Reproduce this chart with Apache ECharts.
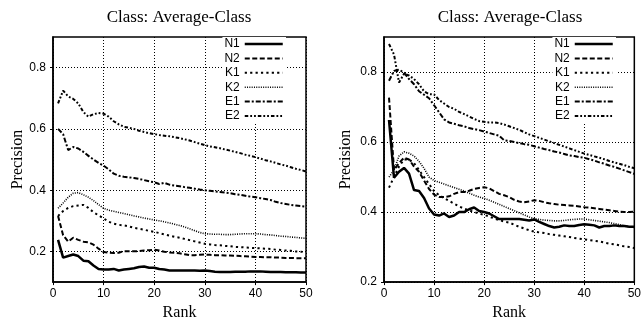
<!DOCTYPE html>
<html>
<head>
<meta charset="utf-8">
<script src="https://cdn.jsdelivr.net/npm/echarts@6/dist/echarts.min.js"></script>
<style>
  html, body { margin: 0; padding: 0; background: #fff; }
  #main { width: 644px; height: 326px; }
</style>
</head>
<body>
<div id="main"></div>
<script>
var ranks = [1,2,3,4,5,6,7,8,9,10,11,12,13,14,15,16,17,18,19,20,21,22,23,24,25,
  26,27,28,29,30,31,32,33,34,35,36,37,38,39,40,41,42,43,44,45,46,47,48,49,50];
var names = ['N1', 'N2', 'K1', 'K2', 'E1', 'E2'];
var yTicks = [0.2, 0.4, 0.6, 0.8];
var xTicks = [0, 10, 20, 30, 40, 50];

// left panel
var leftN1 = [0.238,0.18,0.185,0.19,0.185,0.17,0.168,0.154,0.143,0.141,0.141,0.143,0.138,0.141,0.143,0.145,0.149,0.151,0.147,0.147,
  0.143,0.141,0.138,0.138,0.138,0.138,0.138,0.138,0.137,0.138,0.136,0.134,0.133,0.133,0.133,0.134,0.134,0.134,0.135,0.135,
  0.135,0.134,0.133,0.133,0.133,0.132,0.132,0.132,0.131,0.131];
var leftN2 = [0.316,0.253,0.232,0.245,0.238,0.232,0.23,0.222,0.209,0.198,0.196,0.195,0.196,0.201,0.201,0.201,0.201,0.203,0.204,0.206,
  0.203,0.199,0.197,0.196,0.194,0.191,0.188,0.188,0.189,0.19,0.189,0.188,0.188,0.187,0.187,0.186,0.185,0.184,0.183,0.182,
  0.182,0.181,0.181,0.18,0.18,0.179,0.179,0.178,0.178,0.178];
var leftK1 = [0.316,0.332,0.342,0.348,0.35,0.352,0.342,0.328,0.318,0.308,0.297,0.291,0.287,0.285,0.282,0.277,0.274,0.271,0.267,0.264,
  0.26,0.256,0.252,0.248,0.245,0.241,0.237,0.233,0.229,0.225,0.223,0.221,0.22,0.218,0.217,0.215,0.214,0.213,0.212,0.211,
  0.21,0.209,0.208,0.206,0.205,0.203,0.202,0.2,0.199,0.198];
var leftK2 = [0.341,0.358,0.377,0.39,0.392,0.385,0.377,0.366,0.353,0.341,0.335,0.331,0.327,0.324,0.32,0.316,0.313,0.309,0.306,0.303,
  0.3,0.297,0.293,0.289,0.285,0.28,0.274,0.268,0.262,0.258,0.257,0.256,0.256,0.255,0.255,0.256,0.257,0.258,0.258,0.258,
  0.257,0.255,0.254,0.252,0.25,0.249,0.247,0.246,0.244,0.243];
var leftE1 = [0.6,0.583,0.531,0.541,0.536,0.525,0.512,0.5,0.489,0.48,0.468,0.454,0.447,0.444,0.442,0.44,0.437,0.433,0.429,0.426,
  0.42,0.424,0.418,0.415,0.413,0.41,0.408,0.405,0.402,0.4,0.398,0.396,0.394,0.392,0.39,0.387,0.385,0.382,0.379,0.377,
  0.374,0.371,0.368,0.362,0.358,0.355,0.352,0.35,0.348,0.346];
var leftE2 = [0.683,0.725,0.706,0.698,0.683,0.655,0.64,0.648,0.652,0.65,0.64,0.625,0.615,0.607,0.604,0.6,0.594,0.59,0.586,0.583,
  0.58,0.578,0.576,0.573,0.57,0.566,0.562,0.557,0.552,0.547,0.543,0.54,0.537,0.533,0.529,0.525,0.521,0.516,0.512,0.508,
  0.503,0.498,0.494,0.489,0.484,0.48,0.475,0.47,0.466,0.461];

// right panel
var rightN1 = [0.663,0.498,0.515,0.526,0.51,0.463,0.46,0.44,0.41,0.393,0.39,0.396,0.386,0.39,0.4,0.4,0.408,0.413,0.403,0.4,
  0.396,0.388,0.38,0.38,0.38,0.38,0.38,0.378,0.376,0.379,0.372,0.366,0.36,0.356,0.358,0.362,0.36,0.36,0.363,0.365,
  0.364,0.362,0.356,0.36,0.36,0.362,0.36,0.36,0.358,0.358];
var rightN2 = [0.727,0.52,0.54,0.555,0.55,0.53,0.515,0.49,0.466,0.45,0.443,0.443,0.445,0.452,0.457,0.457,0.461,0.466,0.469,0.471,
  0.468,0.46,0.452,0.448,0.443,0.435,0.43,0.428,0.43,0.434,0.432,0.428,0.425,0.423,0.421,0.42,0.419,0.418,0.416,0.414,
  0.413,0.411,0.409,0.407,0.405,0.403,0.401,0.4,0.4,0.401];
var rightK1 = [0.47,0.5,0.53,0.55,0.55,0.54,0.52,0.5,0.48,0.46,0.448,0.44,0.432,0.424,0.416,0.41,0.405,0.4,0.396,0.392,
  0.387,0.382,0.377,0.373,0.37,0.364,0.358,0.353,0.348,0.344,0.342,0.34,0.337,0.335,0.333,0.331,0.329,0.326,0.324,0.322,
  0.32,0.318,0.316,0.313,0.31,0.308,0.305,0.302,0.3,0.297];
var rightK2 = [0.5,0.52,0.56,0.572,0.568,0.56,0.545,0.525,0.5,0.49,0.485,0.48,0.475,0.47,0.465,0.46,0.454,0.448,0.443,0.439,
  0.434,0.428,0.422,0.416,0.41,0.404,0.398,0.392,0.386,0.381,0.379,0.377,0.376,0.375,0.375,0.376,0.378,0.379,0.38,0.38,
  0.378,0.376,0.374,0.372,0.37,0.367,0.364,0.361,0.358,0.356];
var rightE1 = [0.775,0.803,0.807,0.798,0.78,0.765,0.745,0.735,0.725,0.705,0.685,0.665,0.656,0.652,0.648,0.645,0.64,0.637,0.634,0.63,
  0.626,0.622,0.618,0.605,0.603,0.6,0.597,0.594,0.592,0.588,0.584,0.58,0.577,0.573,0.57,0.566,0.562,0.56,0.557,0.555,
  0.551,0.547,0.542,0.538,0.533,0.529,0.524,0.519,0.514,0.509];
var rightE2 = [0.88,0.85,0.77,0.795,0.79,0.78,0.765,0.745,0.737,0.736,0.72,0.71,0.7,0.695,0.686,0.68,0.673,0.666,0.66,0.658,
  0.656,0.656,0.654,0.65,0.645,0.64,0.635,0.628,0.622,0.617,0.612,0.607,0.602,0.597,0.592,0.587,0.582,0.577,0.572,0.567,
  0.563,0.559,0.555,0.551,0.546,0.542,0.538,0.534,0.529,0.525];

var leftData = [leftN1, leftN2, leftK1, leftK2, leftE1, leftE2];
var rightData = [rightN1, rightN2, rightK1, rightK2, rightE1, rightE2];

// gnuplot-like line types
var styles = [
  {width: 2.5, type: 'solid'},
  {width: 2, type: [5, 2.5]},
  {width: 2, type: [2.2, 3.2]},
  {width: 1.6, type: [1, 1.3]},
  {width: 2, type: [5, 2, 2, 2]},
  {width: 2, type: [3.5, 2, 1.8, 2, 1.8, 2]}
];

var serif = 'Liberation Serif';
var sans = 'Liberation Sans';

function pairs(vals) {
  return ranks.map(function(r, i) { return [r, vals[i]]; });
}

function makeSeries(data, idx) {
  return names.map(function(n, i) {
    return {
      name: n,
      type: 'line',
      xAxisIndex: idx,
      yAxisIndex: idx,
      symbol: 'none',
      showSymbol: false,
      animation: false,
      color: '#000',
      lineStyle: {color: '#000', width: styles[i].width, type: styles[i].type},
      data: pairs(data[i])
    };
  });
}

function xAxisFor(idx) {
  return {
    type: 'value', gridIndex: idx, min: 0, max: 50, interval: 10,
    name: 'Rank', nameLocation: 'middle', nameGap: 20,
    nameTextStyle: {fontFamily: serif, fontSize: 16, color: '#000'},
    axisLine: {show: true, lineStyle: {color: '#000', width: 1.5}},
    axisTick: {show: true, length: 3, lineStyle: {color: '#000'}},
    axisLabel: {fontFamily: sans, fontSize: 12, color: '#000', margin: 6},
    splitLine: {show: true, lineStyle: {color: '#000', width: 1, type: [1, 2]}}
  };
}

function yAxisFor(idx, min, gap) {
  return {
    type: 'value', gridIndex: idx, min: min, max: 0.9, interval: 0.1,
    name: 'Precision', nameLocation: 'middle', nameGap: gap,
    nameTextStyle: {fontFamily: serif, fontSize: 16, color: '#000'},
    axisLine: {show: true, lineStyle: {color: '#000', width: 1.5}},
    axisTick: {show: true, length: 3, customValues: yTicks, lineStyle: {color: '#000'}},
    axisLabel: {fontFamily: sans, fontSize: 12, color: '#000', margin: 7,
      customValues: yTicks, formatter: function(v) { return v.toFixed(1); }},
    splitLine: {show: true, lineStyle: {color: '#000', width: 1, type: [1, 2]}}
  };
}

function legendFor(right) {
  return {
    orient: 'vertical', right: right, top: 37, align: 'right',
    backgroundColor: '#fff', padding: [1, 2, 1, 2],
    itemWidth: 38, itemHeight: 10, itemGap: 2.4,
    selectedMode: false,
    itemStyle: {color: 'rgba(0,0,0,0)', borderWidth: 0, opacity: 0},
    textStyle: {fontFamily: sans, fontSize: 12, color: '#000', lineHeight: 10},
    data: names.map(function(n, i) {
      return {name: n, lineStyle: {width: styles[i].width}};
    })
  };
}

var chart = echarts.init(document.getElementById('main'), null, {renderer: 'canvas'});
var option = {
  animation: false,
  backgroundColor: '#fff',
  graphic: [
    {type: 'text', x: 179, y: 18, style: {text: 'Class: Average-Class', align: 'center', verticalAlign: 'middle',
      fontFamily: serif, fontSize: 17, fill: '#000'}},
    {type: 'text', x: 510, y: 18, style: {text: 'Class: Average-Class', align: 'center', verticalAlign: 'middle',
      fontFamily: serif, fontSize: 17, fill: '#000'}}
  ],
  grid: [
    {left: 53, top: 37, width: 253, height: 254, show: true, borderColor: '#000', borderWidth: 1.5},
    {left: 384, top: 37, width: 252, height: 254, show: true, borderColor: '#000', borderWidth: 1.5}
  ],
  legend: [legendFor(358), legendFor(28)],
  xAxis: [xAxisFor(0), xAxisFor(1)],
  yAxis: [yAxisFor(0, 0.1, 26), yAxisFor(1, 0.2, 30)],
  series: makeSeries(leftData, 0).concat(makeSeries(rightData, 1))
};
chart.setOption(option);
</script>
</body>
</html>
